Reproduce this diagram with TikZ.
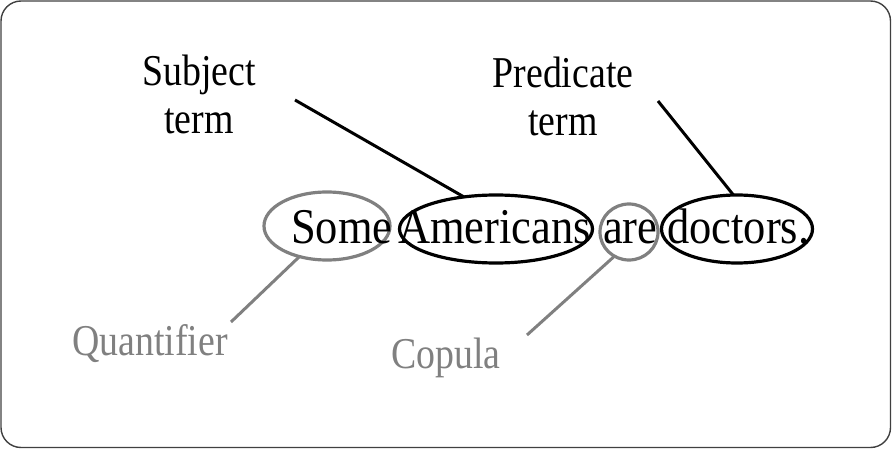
\documentclass[tikz,border=0pt]{standalone}
\usepackage{fontspec}
\setmainfont{Liberation Serif}
\newfontfamily\tnr[FakeStretch=0.89]{Liberation Serif}
\newfontfamily\tnrl[FakeStretch=0.86]{Liberation Serif}
\usetikzlibrary{shapes.geometric}
\definecolor{lgray}{HTML}{808080}
\definecolor{framec}{HTML}{404040}
\begin{document}
\begin{tikzpicture}[x=1pt,y=-1pt,
  word/.style={anchor=base west,inner sep=0pt,font=\tnr\fontsize{50}{60}\selectfont},
  lab/.style={anchor=base,inner sep=0pt,font=\tnrl\fontsize{44}{50}\selectfont},
  ring/.style={ellipse,draw,line width=3.2pt,inner sep=0pt,outer sep=0pt},
  blackring/.style={ring,draw=black},
  grayring/.style={ring,draw=lgray},
  blackline/.style={draw=black,line width=3pt},
  grayline/.style={draw=lgray,line width=3pt}]
\useasboundingbox (0,0) rectangle (892,449);
\draw[framec,line width=1.4pt,rounded corners=20pt] (1,1) rectangle (890.5,447.5);

% ellipses
\node[grayring,minimum width=126pt,minimum height=68pt] (some) at (327,226) {};
\node[blackring,minimum width=193pt,minimum height=68pt] (amer) at (496,229) {};
\node[grayring,minimum width=58pt,minimum height=56pt] (are) at (629,232) {};
\node[blackring,minimum width=151pt,minimum height=68pt] (doc) at (737,229) {};

% sentence words
\node[word] (w1) at (291,244) {Some};
\node[word] (w2) at (398,244) {Americans};
\node[word] (w3) at (603,244) {are};
\node[word] (w4) at (667,244) {doctors.};

% labels
\node[lab] (subj1) at (199,86) {Subject};
\node[lab] (subj2) at (199,134) {term};
\node[lab] (pred1) at (563,88) {Predicate};
\node[lab] (pred2) at (563,136) {term};
\node[lab,text=lgray] (quant) at (150,355) {Quantifier};
\node[lab,text=lgray] (cop) at (446,368) {Copula};

% connector ends
\coordinate (subjend) at (295,100);
\coordinate (predend) at (658,101);
\coordinate (quantend) at (231,322);
\coordinate (copend) at (527,335);

\draw[blackline] (subjend) -- (amer.135);
\draw[blackline] (predend) -- (doc.96);
\draw[grayline] (some.228) -- (quantend);
\draw[grayline] (are.239) -- (copend);
\end{tikzpicture}
\end{document}
